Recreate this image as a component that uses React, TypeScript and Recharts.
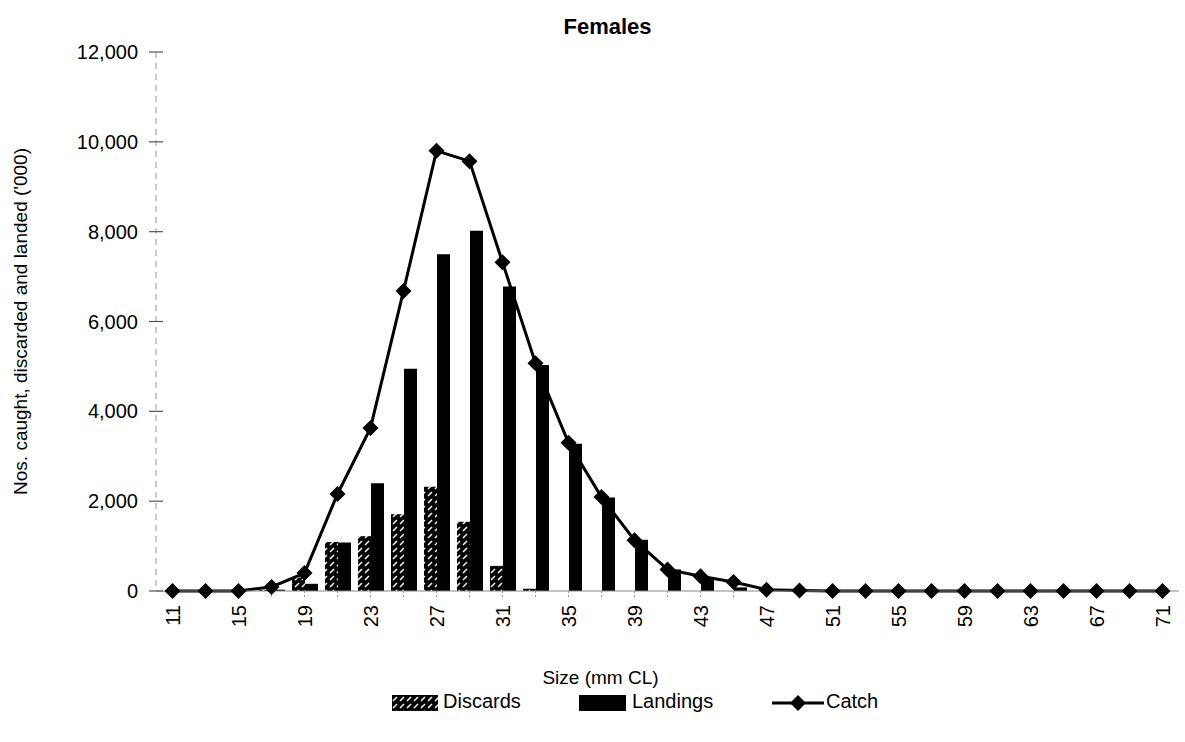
import React from "react";
import { ComposedChart, Bar, Line, XAxis, YAxis, Label } from "recharts";

const sizes = [11, 13, 15, 17, 19, 21, 23, 25, 27, 29, 31, 33, 35, 37, 39, 41, 43, 45, 47, 49, 51, 53, 55, 57, 59, 61, 63, 65, 67, 69, 71];
const discards = [0, 0, 0, 20, 300, 1090, 1220, 1710, 2320, 1540, 560, 50, 0, 0, 0, 0, 0, 0, 0, 0, 0, 0, 0, 0, 0, 0, 0, 0, 0, 0, 0];
const landings = [0, 0, 0, 30, 160, 1080, 2400, 4950, 7500, 8020, 6780, 5030, 3280, 2080, 1140, 480, 300, 80, 10, 0, 0, 0, 0, 0, 0, 0, 0, 0, 0, 0, 0];
const catchTotal = [0, 0, 0, 90, 400, 2160, 3630, 6680, 9800, 9570, 7320, 5070, 3300, 2090, 1130, 480, 330, 200, 30, 10, 0, 0, 0, 0, 0, 0, 0, 0, 0, 0, 0];
const yTicks = [0, 2000, 4000, 6000, 8000, 10000, 12000];

const data = sizes.map((s, i) => ({ size: s, discards: discards[i], landings: landings[i], catch: catchTotal[i] }));

const FONT = "'Liberation Sans', Arial, sans-serif";

function Diamond(props: any) {
  const { cx, cy } = props;
  if (cx == null || cy == null) return null;
  const r = 8;
  return <polygon points={`${cx},${cy - r} ${cx + r},${cy} ${cx},${cy + r} ${cx - r},${cy}`} fill="#000" />;
}

function XTick(props: any) {
  const { x, y, payload, index } = props;
  if (index % 2 !== 0) return null;
  return (
    <g>
      <text x={x} y={y + 6} transform={`rotate(-90, ${x}, ${y + 6})`} textAnchor="end" dominantBaseline="central" fontSize={20} fontFamily={FONT} fill="#000">
        {payload.value}
      </text>
    </g>
  );
}

function YTick(props: any) {
  const { x, y, payload } = props;
  return (
    <g>
      <line x1={x - 7} x2={x + 7} y1={y} y2={y} stroke="#555" strokeWidth={1.2} />
      <text x={x - 18} y={y} textAnchor="end" dominantBaseline="central" fontSize={20} fontFamily={FONT} fill="#000">
        {payload.value.toLocaleString("en-US")}
      </text>
    </g>
  );
}

export default function App() {
  return (
    <div style={{ position: "absolute", left: 0, top: 0, width: 1185, height: 742, background: "#fff", fontFamily: FONT }}>
      <div style={{ position: "absolute", left: 0, top: 14, width: 1215, textAlign: "center", fontWeight: "bold", fontSize: 22 }}>Females</div>
      <ComposedChart
        width={1185}
        height={742}
        data={data}
        margin={{ top: 52, right: 6, bottom: 0, left: 0 }}
        barGap={0}
        barCategoryGap={4}
      >
        <defs>
          <pattern id="hatch" width="7" height="7" patternUnits="userSpaceOnUse">
            <rect width="7" height="7" fill="#000" />
            <line x1="1" y1="6" x2="5" y2="2" stroke="#fff" strokeWidth={1.4} />
          </pattern>
        </defs>
        <XAxis
          dataKey="size"
          interval={0}
          tick={<XTick />}
          tickLine={{ stroke: "#999", strokeDasharray: "2 2" }}
          tickSize={6}
          axisLine={{ stroke: "#888", strokeWidth: 1.2 }}
          height={151}
        >
          <Label value="Size (mm CL)" position="insideTop" offset={80} dx={-67} fontSize={19} fontFamily={FONT} fill="#000" />
        </XAxis>
        <YAxis
          domain={[0, 12000]}
          ticks={yTicks}
          tick={<YTick />}
          tickSize={0}
          tickMargin={0}
          tickLine={false}
          axisLine={{ stroke: "#999", strokeDasharray: "6 5" }}
          width={156}
        >
          <Label
            value="Nos. caught, discarded and landed ('000)"
            angle={-90}
            position="insideLeft"
            offset={20}
            fontSize={19}
            fontFamily={FONT}
            fill="#000"
            style={{ textAnchor: "middle" }}
          />
        </YAxis>
        <Bar dataKey="discards" fill="url(#hatch)" isAnimationActive={false} />
        <Bar dataKey="landings" fill="#000" isAnimationActive={false} />
        <Line dataKey="catch" stroke="#000" strokeWidth={3} dot={<Diamond />} activeDot={false} isAnimationActive={false} />
      </ComposedChart>
      <div style={{ position: "absolute", left: 0, top: 688, width: 1185, height: 30, fontSize: 20 }}>
        <svg style={{ position: "absolute", left: 392, top: 7 }} width={46} height={16}>
          <rect width={46} height={16} fill="url(#hatchLegend)" />
          <defs>
            <pattern id="hatchLegend" width="7" height="7" patternUnits="userSpaceOnUse">
              <rect width="7" height="7" fill="#000" />
              <line x1="1" y1="6" x2="5" y2="2" stroke="#fff" strokeWidth={1.4} />
            </pattern>
          </defs>
        </svg>
        <span style={{ position: "absolute", left: 443, top: 2 }}>Discards</span>
        <svg style={{ position: "absolute", left: 579, top: 7 }} width={47} height={16}>
          <rect width={47} height={16} fill="#000" />
        </svg>
        <span style={{ position: "absolute", left: 632, top: 2 }}>Landings</span>
        <svg style={{ position: "absolute", left: 772, top: 4 }} width={52} height={22}>
          <line x1={0} x2={52} y1={11} y2={11} stroke="#000" strokeWidth={3} />
          <polygon points="26,3 34,11 26,19 18,11" fill="#000" />
        </svg>
        <span style={{ position: "absolute", left: 826, top: 2 }}>Catch</span>
      </div>
    </div>
  );
}
